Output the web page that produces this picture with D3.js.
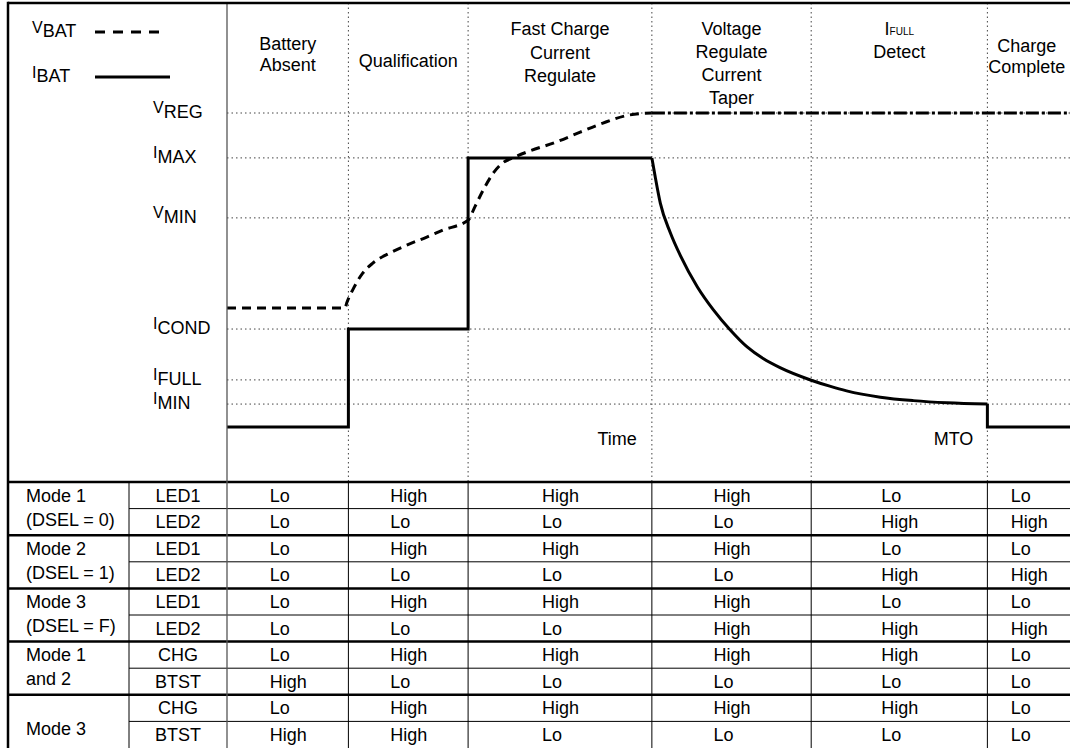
<!DOCTYPE html>
<html>
<head>
<meta charset="utf-8">
<script src="https://cdn.jsdelivr.net/npm/d3@7"></script>
<style>
  body { margin: 0; background: #fff; }
  svg { display: block; font-family: "Liberation Sans", Arial, sans-serif; }
</style>
</head>
<body>
<div id="chart"></div>
<script>
// --------------------------------------
//  Data
// --------------------------------------

// phase boundaries on the time axis (0..100)
const phaseEdges = [0, 14.4, 28.6, 50.4, 69.3, 90.2, 100];

const phaseLabels = [
  ["Battery", "Absent"],
  ["Qualification"],
  ["Fast Charge", "Current", "Regulate"],
  ["Voltage", "Regulate", "Current", "Taper"],
  ["I_FULL", "Detect"],
  ["Charge", "Complete"]
];

// reference levels (0 = baseline, 100 = VREG)
const levels = [
  {main: "V", sub: "REG",  value: 100},
  {main: "I", sub: "MAX",  value: 85.7},
  {main: "V", sub: "MIN",  value: 66.6},
  {main: "I", sub: "COND", value: 31.2},
  {main: "I", sub: "FULL", value: 15.0},
  {main: "I", sub: "MIN",  value: 7.3}
];

// battery voltage, rising part (dashed)
const vbatRise = [
  [0, 37.9], [14.0, 37.9], [14.2, 39.5], [14.9, 43.6], [16.1, 49.0], [17.3, 52.2],
  [19.3, 55.4], [21.4, 58.0], [23.7, 60.5], [25.6, 62.7], [28.6, 65.9],
  [29.4, 70.1], [30.4, 75.5], [31.6, 80.9], [32.7, 84.1], [33.9, 85.7],
  [35.6, 87.6], [39.1, 90.8], [41.9, 93.9], [44.6, 96.8], [47.8, 99.4], [50.4, 100]
];
// battery voltage held at VREG (dash-dot)
const vbatHold = [[50.4, 100], [100, 100]];

// battery current, step part
const ibatSteps = [
  [0, 0], [14.4, 0], [14.4, 31.2], [28.6, 31.2], [28.6, 85.7], [50.4, 85.7]
];
// battery current, taper
const ibatTaper = [
  [50.4, 85.7], [50.8, 79.6], [51.4, 71.3], [52.6, 61.8], [53.8, 54.5],
  [55.8, 44.6], [57.7, 37.3], [59.7, 30.9], [61.7, 25.5], [63.6, 21.8],
  [65.6, 18.9], [69.3, 14.9], [71.5, 13.0], [73.5, 11.5], [77.5, 9.5],
  [81.4, 8.4], [85.4, 7.7], [90.2, 7.3]
];
// battery current after timeout
const ibatEnd = [[90.2, 7.3], [90.2, 0], [100, 0]];

// status table
const modeGroups = [
  {mode: ["Mode 1", "(DSEL = 0)"], signals: ["LED1", "LED2"]},
  {mode: ["Mode 2", "(DSEL = 1)"], signals: ["LED1", "LED2"]},
  {mode: ["Mode 3", "(DSEL = F)"], signals: ["LED1", "LED2"]},
  {mode: ["Mode 1", "and 2"],      signals: ["CHG", "BTST"]},
  {mode: ["Mode 3"],               signals: ["CHG", "BTST"]}
];

const states = [
  ["Lo",   "High", "High", "High", "Lo",   "Lo"],
  ["Lo",   "Lo",   "Lo",   "Lo",   "High", "High"],
  ["Lo",   "High", "High", "High", "Lo",   "Lo"],
  ["Lo",   "Lo",   "Lo",   "Lo",   "High", "High"],
  ["Lo",   "High", "High", "High", "Lo",   "Lo"],
  ["Lo",   "Lo",   "Lo",   "High", "High", "High"],
  ["Lo",   "High", "High", "High", "High", "Lo"],
  ["High", "Lo",   "Lo",   "Lo",   "Lo",   "Lo"],
  ["Lo",   "High", "High", "High", "High", "Lo"],
  ["High", "High", "Lo",   "Lo",   "Lo",   "Lo"]
];

// --------------------------------------
//  Canvas and scales
// --------------------------------------

const width = 1070;
const height = 748;
const frameLeft = 8, frameTop = 3;
const plotLeft = 227;
const tableTop = 482;
const modeColRight = 129;
const fs = 18;

const svg = d3.select("#chart")
  .append("svg")
    .attr("width", width)
    .attr("height", height);

const x = d3.scaleLinear().domain([0, 100]).range([plotLeft, width]);
const y = d3.scaleLinear().domain([0, 100]).range([427, 113]);
const rowY = d3.scaleBand().domain(d3.range(states.length)).range([tableTop, height]);

const line = d3.line().x(d => x(d[0])).y(d => y(d[1]));
const smooth = d3.line().x(d => x(d[0])).y(d => y(d[1])).curve(d3.curveMonotoneX);

// --------------------------------------
//  Grid
// --------------------------------------

svg.selectAll(".hgrid")
  .data(levels)
  .join("line")
    .attr("x1", plotLeft).attr("x2", width)
    .attr("y1", d => y(d.value)).attr("y2", d => y(d.value))
    .attr("stroke", "#444").attr("stroke-width", 1)
    .attr("stroke-dasharray", "1.5,3");

svg.selectAll(".vgrid")
  .data(phaseEdges.slice(1, -1))
  .join("line")
    .attr("x1", d => x(d)).attr("x2", d => x(d))
    .attr("y1", frameTop).attr("y2", tableTop)
    .attr("stroke", "#444").attr("stroke-width", 1)
    .attr("stroke-dasharray", "1.5,3");

// --------------------------------------
//  Curves
// --------------------------------------

svg.append("path").attr("d", smooth(vbatRise))
  .attr("fill", "none").attr("stroke", "#000").attr("stroke-width", 3)
  .attr("stroke-dasharray", "9,6");

svg.append("path").attr("d", line(vbatHold))
  .attr("fill", "none").attr("stroke", "#000").attr("stroke-width", 3)
  .attr("stroke-dasharray", "13,3,3,3");

svg.append("path").attr("d", line(ibatSteps))
  .attr("fill", "none").attr("stroke", "#000").attr("stroke-width", 3);

svg.append("path").attr("d", smooth(ibatTaper))
  .attr("fill", "none").attr("stroke", "#000").attr("stroke-width", 3);

svg.append("path").attr("d", line(ibatEnd))
  .attr("fill", "none").attr("stroke", "#000").attr("stroke-width", 3);

// --------------------------------------
//  Level labels and legend
// --------------------------------------

const levelText = svg.selectAll(".lvl")
  .data(levels)
  .join("text")
    .attr("x", 153)
    .attr("y", d => y(d.value) + 5)
    .attr("font-size", fs);
levelText.append("tspan").attr("font-size", 16).attr("dy", -5).text(d => d.main);
levelText.append("tspan").attr("dy", 5).text(d => d.sub);

const legend = [
  {main: "V", sub: "BAT", y: 37, dash: "10,8"},
  {main: "I", sub: "BAT", y: 82, dash: null}
];
const lg = svg.selectAll(".lg").data(legend).join("g");
const lt = lg.append("text").attr("x", 32).attr("y", d => d.y).attr("font-size", fs);
lt.append("tspan").attr("font-size", 16).attr("dy", -4).text(d => d.main);
lt.append("tspan").attr("dy", 4).text(d => d.sub);
lg.append("line")
  .attr("x1", 95).attr("x2", (d, i) => i ? 170 : 165)
  .attr("y1", d => d.y - 5).attr("y2", d => d.y - 5)
  .attr("stroke", "#000").attr("stroke-width", 3)
  .attr("stroke-dasharray", d => d.dash);

// --------------------------------------
//  Phase labels
// --------------------------------------

const labelTop = [50, 67, 35, 35, 35, 52];
const labelStep = [21, 0, 23.5, 23, 23, 21];

phaseLabels.forEach((lines, i) => {
  const cx = (x(phaseEdges[i]) + x(phaseEdges[i + 1])) / 2 + (i === 5 ? -2 : 0);
  lines.forEach((ln, j) => {
    const t = svg.append("text")
      .attr("x", cx)
      .attr("y", labelTop[i] + j * labelStep[i])
      .attr("text-anchor", "middle")
      .attr("font-size", fs);
    if (ln.includes("_")) {
      const [a, b] = ln.split("_");
      t.append("tspan").text(a);
      t.append("tspan").attr("font-size", 10).text(b);
    } else {
      t.text(ln);
    }
  });
});

svg.append("text").attr("x", x(phaseEdges[3]) - 15).attr("y", 445)
  .attr("text-anchor", "end").attr("font-size", fs).text("Time");
svg.append("text").attr("x", x(phaseEdges[5]) - 14).attr("y", 445)
  .attr("text-anchor", "end").attr("font-size", fs).text("MTO");

// --------------------------------------
//  Table
// --------------------------------------

const rowH = rowY.bandwidth();

// cell values
states.forEach((row, r) => {
  svg.selectAll(null)
    .data(row)
    .join("text")
      .attr("x", (d, c) => (x(phaseEdges[c]) + x(phaseEdges[c + 1])) / 2 - 18)
      .attr("y", rowY(r) + 19.5)
      .attr("font-size", fs)
      .text(d => d);
});

// signal names and modes
let r0 = 0;
modeGroups.forEach((g) => {
  g.signals.forEach((s, k) => {
    svg.append("text")
      .attr("x", (modeColRight + plotLeft) / 2)
      .attr("y", rowY(r0 + k) + 19.5)
      .attr("text-anchor", "middle")
      .attr("font-size", fs)
      .text(s);
    if (k > 0) {
      svg.append("line")
        .attr("x1", modeColRight).attr("x2", width)
        .attr("y1", rowY(r0 + k)).attr("y2", rowY(r0 + k))
        .attr("stroke", "#000").attr("stroke-width", 1);
    }
  });
  const gy = rowY(r0);
  const gh = rowH * g.signals.length;
  g.mode.forEach((m, k) => {
    svg.append("text")
      .attr("x", 26)
      .attr("y", g.mode.length === 1 ? gy + gh / 2 + 14 : gy + 19.5 + k * 24)
      .attr("font-size", fs)
      .text(m);
  });
  svg.append("line")
    .attr("x1", frameLeft).attr("x2", width)
    .attr("y1", gy).attr("y2", gy)
    .attr("stroke", "#000").attr("stroke-width", 2.5);
  r0 += g.signals.length;
});

// table column lines
svg.selectAll(".tcol")
  .data(phaseEdges.slice(1, -1))
  .join("line")
    .attr("x1", d => x(d)).attr("x2", d => x(d))
    .attr("y1", tableTop).attr("y2", height)
    .attr("stroke", "#000").attr("stroke-width", 1);

svg.append("line")
  .attr("x1", modeColRight).attr("x2", modeColRight)
  .attr("y1", tableTop).attr("y2", height)
  .attr("stroke", "#000").attr("stroke-width", 1);

svg.append("line")
  .attr("x1", plotLeft).attr("x2", plotLeft)
  .attr("y1", frameTop).attr("y2", height)
  .attr("stroke", "#555").attr("stroke-width", 1.3);

// outer frame
svg.append("line")
  .attr("x1", frameLeft).attr("x2", width)
  .attr("y1", frameTop).attr("y2", frameTop)
  .attr("stroke", "#000").attr("stroke-width", 2.5);
svg.append("line")
  .attr("x1", frameLeft).attr("x2", frameLeft)
  .attr("y1", frameTop - 1.25).attr("y2", height)
  .attr("stroke", "#000").attr("stroke-width", 2.5);
</script>
</body>
</html>
